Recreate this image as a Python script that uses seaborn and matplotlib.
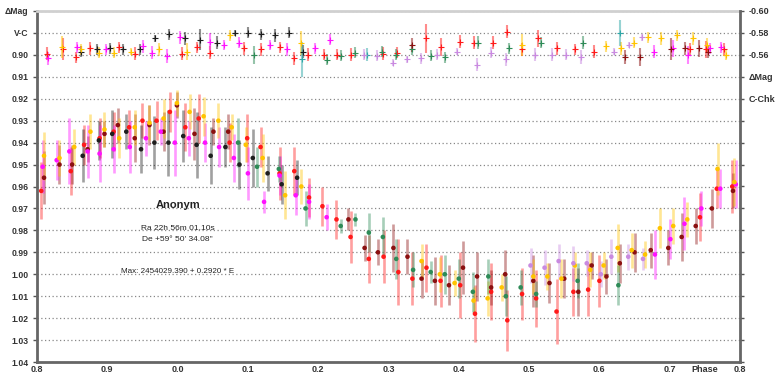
import matplotlib
matplotlib.use("Agg")
import matplotlib.pyplot as plt
import seaborn as sns
import pandas as pd

# ---------------- main light curve (V-C), phase shown from 0.8 .. 1.8 as -0.2 .. 0.8
red_phase = [-0.194, -0.152, -0.133, -0.111, -0.091, -0.069, -0.050, -0.030, -0.011, 0.011,
             0.030, 0.074, 0.099, 0.118, 0.145, 0.166, 0.187, 0.206, 0.226, 0.246,
             0.272, 0.293, 0.314, 0.334, 0.354, 0.374, 0.402, 0.423, 0.446, 0.469,
             0.490, 0.510, 0.539, 0.563, 0.584, 0.600, 0.743, 0.767, 0.789]
red_mag = [0.962, 0.953, 0.941, 0.938, 0.935, 0.933, 0.930, 0.930, 0.926, 0.933,
           0.929, 0.940, 0.938, 0.942, 0.954, 0.953, 0.965, 0.969, 0.975, 0.983,
           0.993, 0.992, 0.999, 1.002, 0.997, 1.003, 1.005, 1.018, 1.008, 1.021,
           1.009, 1.011, 1.017, 1.008, 1.007, 1.003, 0.974, 0.961, 0.960]
red_err = [0.013, 0.011, 0.009, 0.009, 0.009, 0.008, 0.008, 0.009, 0.009, 0.011,
           0.011, 0.009, 0.011, 0.009, 0.012, 0.011, 0.009, 0.009, 0.009, 0.012,
           0.011, 0.012, 0.015, 0.012, 0.011, 0.012, 0.015, 0.013, 0.013, 0.014,
           0.012, 0.013, 0.015, 0.011, 0.012, 0.012, 0.011, 0.009, 0.012]

maroon_phase = [-0.190, -0.168, -0.150, -0.128, -0.104, -0.085, -0.061, -0.040, -0.020, -0.001,
                0.024, 0.051, 0.072, 0.243, 0.266, 0.285, 0.307, 0.327, 0.347, 0.366,
                0.386, 0.406, 0.426, 0.446, 0.466, 0.506, 0.529, 0.550, 0.570, 0.589,
                0.610, 0.629, 0.650, 0.673, 0.698, 0.717, 0.737, 0.760, 0.790]
maroon_mag = [0.956, 0.950, 0.950, 0.943, 0.936, 0.932, 0.938, 0.932, 0.935, 0.923,
              0.936, 0.935, 0.935, 0.975, 0.988, 0.990, 0.988, 0.992, 1.002, 1.003,
              1.005, 0.997, 1.001, 1.006, 1.000, 1.003, 1.004, 1.002, 1.008, 0.996,
              1.001, 0.995, 0.990, 0.989, 0.988, 0.983, 0.978, 0.970, 0.962]
maroon_err = [0.012, 0.009, 0.009, 0.006, 0.006, 0.008, 0.011, 0.009, 0.009, 0.006,
              0.012, 0.006, 0.008, 0.005, 0.006, 0.006, 0.011, 0.008, 0.009, 0.011,
              0.009, 0.012, 0.011, 0.008, 0.011, 0.012, 0.009, 0.009, 0.011, 0.006,
              0.008, 0.009, 0.009, 0.008, 0.008, 0.011, 0.008, 0.009, 0.008]

black_phase = [-0.135, -0.112, -0.093, -0.073, -0.052, -0.033, -0.013, 0.008, 0.027, 0.047,
               0.068, 0.088, 0.107, 0.128, 0.148, 0.170]
black_mag = [0.946, 0.939, 0.936, 0.935, 0.943, 0.940, 0.940, 0.937, 0.941, 0.946,
             0.942, 0.950, 0.947, 0.954, 0.959, 0.956]
black_err = [0.012, 0.009, 0.011, 0.008, 0.011, 0.012, 0.015, 0.012, 0.015, 0.013,
             0.009, 0.011, 0.013, 0.008, 0.009, 0.008]

magenta_phase = [-0.192, -0.172, -0.154, -0.128, -0.111, -0.091, -0.068, -0.045, -0.024, -0.004,
                 0.016, 0.039, 0.059, 0.080, 0.100, 0.123, 0.145, 0.168, 0.187, 0.212,
                 0.679, 0.701, 0.721, 0.745, 0.772, 0.794]
magenta_mag = [0.951, 0.948, 0.944, 0.944, 0.945, 0.943, 0.942, 0.938, 0.935, 0.940,
               0.938, 0.940, 0.942, 0.947, 0.954, 0.967, 0.955, 0.964, 0.967, 0.974,
               0.991, 0.984, 0.977, 0.970, 0.961, 0.959]
magenta_err = [0.012, 0.009, 0.015, 0.012, 0.013, 0.011, 0.012, 0.008, 0.006, 0.015,
               0.008, 0.009, 0.009, 0.011, 0.012, 0.005, 0.009, 0.009, 0.008, 0.006,
               0.011, 0.009, 0.012, 0.008, 0.009, 0.011]

yellow_phase = [-0.190, -0.168, -0.147, -0.124, -0.104, -0.083, -0.061, -0.040, -0.020, -0.001,
                0.017, 0.037, 0.058, 0.077, 0.097, 0.121, 0.153, 0.176, 0.347, 0.373,
                0.394, 0.421, 0.441, 0.461, 0.506, 0.526, 0.546, 0.565, 0.587, 0.606,
                0.626, 0.646, 0.665, 0.686, 0.705, 0.725, 0.768, 0.792]
yellow_mag = [0.946, 0.947, 0.942, 0.935, 0.934, 0.938, 0.933, 0.931, 0.929, 0.922,
              0.926, 0.928, 0.930, 0.933, 0.941, 0.947, 0.964, 0.960, 0.994, 1.000,
              1.004, 1.012, 1.011, 1.006, 1.001, 1.001, 1.002, 0.996, 0.998, 0.996,
              0.988, 0.989, 0.991, 0.979, 0.978, 0.975, 0.952, 0.958]
yellow_err = [0.011, 0.008, 0.008, 0.008, 0.008, 0.009, 0.008, 0.008, 0.009, 0.006,
              0.008, 0.009, 0.008, 0.006, 0.008, 0.011, 0.011, 0.008, 0.008, 0.008,
              0.006, 0.006, 0.008, 0.006, 0.008, 0.006, 0.009, 0.006, 0.008, 0.006,
              0.011, 0.008, 0.006, 0.009, 0.008, 0.008, 0.012, 0.011]

green_phase = [0.086, 0.113, 0.144, 0.182, 0.232, 0.253, 0.272, 0.292, 0.311, 0.335,
               0.360, 0.380, 0.400, 0.420, 0.442, 0.467, 0.488, 0.510, 0.569, 0.627]
green_mag = [0.940, 0.951, 0.952, 0.970, 0.978, 0.975, 0.981, 0.983, 0.993, 0.998,
             0.999, 1.000, 1.002, 1.008, 1.001, 1.010, 1.006, 1.009, 1.003, 1.005]
green_err = [0.011, 0.009, 0.006, 0.008, 0.003, 0.003, 0.009, 0.009, 0.009, 0.008,
             0.005, 0.009, 0.009, 0.009, 0.008, 0.009, 0.008, 0.006, 0.008, 0.009]

violet_phase = [0.502, 0.522, 0.542, 0.563, 0.582, 0.602, 0.617, 0.641, 0.662]
violet_mag = [0.996, 0.997, 0.994, 0.995, 0.995, 1.000, 0.992, 0.992, 0.993]
violet_err = [0.008, 0.008, 0.008, 0.008, 0.006, 0.006, 0.008, 0.006, 0.005]

# ---------------- check star (C-Chk), right axis
chk_red_phase = [-0.186, -0.163, -0.144, -0.125, -0.084, -0.061, 0.006, 0.027, 0.046, 0.094,
                 0.118, 0.146, 0.165, 0.186, 0.208, 0.227, 0.246, 0.292, 0.312, 0.354,
                 0.374, 0.402, 0.422, 0.448, 0.469, 0.490, 0.512, 0.539, 0.566, 0.592,
                 0.729, 0.751, 0.777]
chk_red_mag = [-0.561, -0.565, -0.558, -0.566, -0.567, -0.561, -0.561, -0.567, -0.562, -0.566,
               -0.565, -0.567, -0.557, -0.560, -0.560, -0.560, -0.560, -0.561, -0.562, -0.575,
               -0.567, -0.572, -0.571, -0.571, -0.581, -0.565, -0.575, -0.566, -0.565, -0.563,
               -0.565, -0.565, -0.565]
chk_red_err = [0.006, 0.010, 0.005, 0.006, 0.005, 0.006, 0.006, 0.005, 0.006, 0.006,
               0.006, 0.005, 0.006, 0.006, 0.005, 0.005, 0.006, 0.006, 0.005, 0.013,
               0.008, 0.006, 0.006, 0.006, 0.006, 0.006, 0.008, 0.006, 0.005, 0.006,
               0.006, 0.008, 0.006]

chk_black_phase = [-0.137, -0.115, -0.096, -0.077, -0.053, -0.032, -0.012, 0.011, 0.032, 0.056,
                   0.081, 0.100, 0.119, 0.139, 0.158, 0.179]
chk_black_mag = [-0.563, -0.565, -0.566, -0.565, -0.565, -0.575, -0.579, -0.575, -0.574, -0.571,
                 -0.580, -0.580, -0.579, -0.578, -0.580, -0.563]
chk_black_err = [0.005, 0.005, 0.005, 0.005, 0.005, 0.003, 0.005, 0.006, 0.010, 0.006,
                 0.003, 0.005, 0.005, 0.006, 0.005, 0.006]

chk_magenta_phase = [-0.184, -0.143, -0.102, -0.049, -0.037, -0.015, 0.004, 0.046, 0.066, 0.088,
                     0.132, 0.155, 0.196, 0.217, 0.678, 0.704, 0.726, 0.758, 0.773]
chk_magenta_mag = [-0.557, -0.567, -0.565, -0.568, -0.562, -0.559, -0.576, -0.572, -0.569, -0.571,
                   -0.569, -0.565, -0.566, -0.574, -0.563, -0.566, -0.560, -0.566, -0.567]
chk_magenta_err = [0.006, 0.005, 0.005, 0.006, 0.006, 0.006, 0.006, 0.008, 0.005, 0.005,
                   0.005, 0.006, 0.005, 0.005, 0.006, 0.008, 0.008, 0.005, 0.005]

chk_yellow_phase = [-0.165, -0.137, -0.112, -0.090, -0.066, -0.026, 0.013, 0.074, 0.175, 0.490,
                    0.609, 0.631, 0.649, 0.669, 0.688, 0.710, 0.733, 0.753, 0.780]
chk_yellow_mag = [-0.567, -0.565, -0.562, -0.562, -0.563, -0.565, -0.563, -0.578, -0.571, -0.569,
                  -0.568, -0.566, -0.571, -0.576, -0.575, -0.578, -0.575, -0.569, -0.560]
chk_yellow_err = [0.010, 0.005, 0.005, 0.005, 0.003, 0.006, 0.008, 0.005, 0.011, 0.010,
                  0.005, 0.006, 0.005, 0.005, 0.006, 0.005, 0.006, 0.006, 0.005]

chk_green_phase = [0.108, 0.213, 0.232, 0.253, 0.291, 0.311, 0.334, 0.360, 0.381, 0.427,
                   0.471, 0.517, 0.576]
chk_green_mag = [-0.560, -0.5555, -0.559, -0.562, -0.563, -0.560, -0.565, -0.559, -0.558, -0.571,
                 -0.566, -0.571, -0.571]
chk_green_err = [0.008, 0.005, 0.005, 0.005, 0.005, 0.005, 0.005, 0.005, 0.005, 0.006,
                 0.005, 0.005, 0.006]

chk_teal_phase = [0.177, 0.270, 0.629]
chk_teal_mag = [-0.556, -0.560, -0.580]
chk_teal_err = [0.016, 0.006, 0.012]

chk_violet_phase = [0.265, 0.284, 0.307, 0.327, 0.346, 0.369, 0.397, 0.426, 0.446, 0.467,
                    0.509, 0.533, 0.552, 0.574, 0.621, 0.642, 0.660]
chk_violet_mag = [-0.560, -0.559, -0.553, -0.556, -0.557, -0.560, -0.563, -0.551, -0.562, -0.556,
                  -0.560, -0.560, -0.560, -0.558, -0.563, -0.569, -0.576]
chk_violet_err = [0.005, 0.005, 0.003, 0.003, 0.005, 0.005, 0.003, 0.006, 0.005, 0.006,
                  0.006, 0.006, 0.005, 0.006, 0.003, 0.003, 0.003]

chk_maroon_phase = [0.334, 0.636, 0.658, 0.702, 0.722, 0.741, 0.755]
chk_maroon_mag = [-0.569, -0.558, -0.558, -0.565, -0.566, -0.566, -0.563]
chk_maroon_err = [0.006, 0.006, 0.008, 0.010, 0.006, 0.008, 0.006]

# ticks / labels
x_ticks = [-0.2, -0.1, 0.0, 0.1, 0.2, 0.3, 0.4, 0.5, 0.6, 0.7, 0.8]
x_labels = ["0.8", "0.9", "0.0", "0.1", "0.2", "0.3", "0.4", "0.5", "0.6", "0.7", "0.8"]
left_ticks = [0.88, 0.89, 0.90, 0.91, 0.92, 0.93, 0.94, 0.95, 0.96, 0.97, 0.98, 0.99,
              1.00, 1.01, 1.02, 1.03, 1.04]
left_labels = ["\u0394Mag", "V-C", "0.90", "0.91", "0.92", "0.93", "0.94", "0.95", "0.96",
               "0.97", "0.98", "0.99", "1.00", "1.01", "1.02", "1.03", "1.04"]
right_ticks = [-0.60, -0.58, -0.56, -0.54, -0.52, -0.50, -0.48, -0.46, -0.44, -0.42, -0.40,
               -0.38, -0.36, -0.34, -0.32, -0.30, -0.28]
right_labels = ["-0.60", "-0.58", "-0.56", "\u0394Mag", "C-Chk"] + [""] * 12

colors = {
    "red": "#ff1a1a", "maroon": "#8b1010", "black": "#1e1e1e", "magenta": "#ff10ff",
    "yellow": "#ffc400", "green": "#2e8b57", "violet": "#c98ae0", "teal": "#30a8a8",
}

main_series = {
    "red": (red_phase, red_mag, red_err),
    "maroon": (maroon_phase, maroon_mag, maroon_err),
    "black": (black_phase, black_mag, black_err),
    "magenta": (magenta_phase, magenta_mag, magenta_err),
    "yellow": (yellow_phase, yellow_mag, yellow_err),
    "green": (green_phase, green_mag, green_err),
    "violet": (violet_phase, violet_mag, violet_err),
}
check_series = {
    "red": (chk_red_phase, chk_red_mag, chk_red_err),
    "black": (chk_black_phase, chk_black_mag, chk_black_err),
    "magenta": (chk_magenta_phase, chk_magenta_mag, chk_magenta_err),
    "yellow": (chk_yellow_phase, chk_yellow_mag, chk_yellow_err),
    "green": (chk_green_phase, chk_green_mag, chk_green_err),
    "teal": (chk_teal_phase, chk_teal_mag, chk_teal_err),
    "violet": (chk_violet_phase, chk_violet_mag, chk_violet_err),
    "maroon": (chk_maroon_phase, chk_maroon_mag, chk_maroon_err),
}

sns.set_theme(style="white")
plt.rcParams["font.family"] = ["Liberation Sans", "DejaVu Sans"]

fig = plt.figure(figsize=(7.75, 3.74), dpi=100)
ax = fig.add_axes([37 / 775, 1 - 362 / 374, (740 - 37) / 775, (362 - 11) / 374])

rows = []
for name, (p, m, e) in main_series.items():
    for pi, mi, ei in zip(p, m, e):
        rows.append({"series": name, "phase": pi, "mag": mi, "err": ei})
df = pd.DataFrame(rows)

for name, g in df.groupby("series", sort=False):
    ax.errorbar(g["phase"], g["mag"], yerr=g["err"], fmt="none",
                ecolor=colors[name], elinewidth=1.9, alpha=0.42, zorder=2)
sns.scatterplot(data=df, x="phase", y="mag", hue="series", palette=colors,
                s=11, linewidth=0, legend=False, ax=ax, zorder=3)

ax.set_xlim(-0.2, 0.8)
ax.set_ylim(1.04, 0.88)
ax.set_yticks(left_ticks)
ax.set_yticklabels(left_labels, fontsize=6.2, fontweight="bold", color="#333333")
ax.set_xticks(x_ticks)
ax.set_xticklabels(x_labels, fontsize=6.5, fontweight="bold", color="#333333")
ax.set_xlabel("")
ax.set_ylabel("")
ax.yaxis.grid(True, linestyle=(0, (1, 2)), color="#888888", linewidth=0.9)
ax.xaxis.grid(False)
ax.tick_params(axis="y", direction="out", length=3, width=1, color="#555555", pad=3)
ax.tick_params(axis="x", direction="in", length=3, width=1, color="#555555", pad=2)

for side in ["left", "bottom"]:
    ax.spines[side].set_color("#666666")
    ax.spines[side].set_linewidth(2)
ax.spines["top"].set_color("#d0d0d0")
ax.spines["top"].set_linewidth(2)
ax.spines["right"].set_visible(False)

ax.text(0.75, -0.021, "Phase", transform=ax.get_xaxis_transform(), ha="center", va="center",
        fontsize=6.5, fontweight="bold", color="#333333")

ax.text(0.0, 0.9684, "Anonym", ha="center", va="center", fontsize=8, fontweight="bold",
        color="#222222")
ax.text(0.0, 0.9792, "Ra 22h 56m 01.10s", ha="center", va="center", fontsize=6,
        color="#222222")
ax.text(0.0, 0.9842, "De +59\u00b0 50' 34.08''", ha="center", va="center", fontsize=6,
        color="#222222")
ax.text(0.0, 0.9987, "Max: 2454029.390 + 0.2920 * E", ha="center", va="center", fontsize=5.8,
        color="#222222")

# check star on right axis
ax2 = ax.twinx()
for name, (p, m, e) in check_series.items():
    ax2.errorbar(p, m, yerr=e, fmt="none", ecolor=colors[name], elinewidth=1.5,
                 alpha=0.5, zorder=2)
    sns.scatterplot(x=p, y=m, color=colors[name], marker="+", s=16, linewidth=0.8,
                    legend=False, ax=ax2, zorder=3)
ax2.set_ylim(-0.28, -0.60)
ax2.set_yticks(right_ticks)
ax2.set_yticklabels(right_labels, fontsize=6.5, fontweight="bold", color="#333333")
ax2.tick_params(axis="y", direction="out", length=3, width=1, color="#555555", pad=3)
ax2.grid(False)
for side in ["left", "bottom", "top"]:
    ax2.spines[side].set_visible(False)
ax2.spines["right"].set_color("#666666")
ax2.spines["right"].set_linewidth(2)
ax2.set_xlim(-0.2, 0.8)

fig.savefig("out.png", dpi=100)
